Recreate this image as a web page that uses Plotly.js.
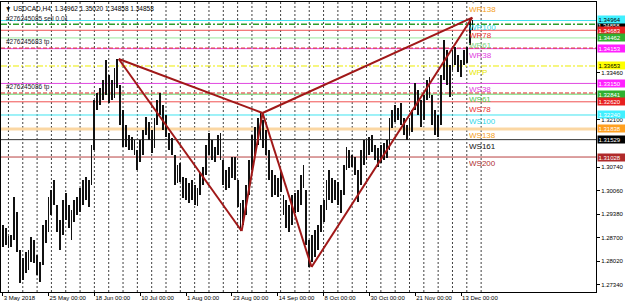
<!DOCTYPE html>
<html><head><meta charset="utf-8">
<script src="https://cdn.plot.ly/plotly-3.0.1.min.js"></script>
<style>html,body{margin:0;padding:0;background:#fff;}#chart{width:625px;height:304px;}</style>
</head><body><div id="chart"></div>
<script>
// ---- data ----
const highs = [1.29067,1.28981,1.2875,1.28779,1.29875,1.29442,1.28346,1.28116,1.28289,1.28346,
1.28721,1.28635,1.28202,1.28,1.29067,1.29211,1.29875,1.30077,1.30365,1.29644,
1.29211,1.29788,1.2999,1.29644,1.295,1.29788,1.29875,1.30134,1.30365,1.30452,
1.30365,1.31374,1.32672,1.32874,1.33018,1.33249,1.33826,1.33393,1.33249,1.33595,
1.33855,1.33105,1.32384,1.31951,1.31663,1.31605,1.31519,1.3123,1.31519,1.31807,
1.32182,1.32038,1.31807,1.32153,1.32672,1.32874,1.32528,1.3224,1.31721,1.31576,
1.31086,1.30798,1.30855,1.30452,1.30423,1.30279,1.30365,1.30221,1.30134,1.30596,
1.3074,1.31374,1.31721,1.31519,1.31317,1.31663,1.31721,1.30942,1.30653,1.3074,
1.31028,1.31028,1.30365,1.29702,1.29788,1.30221,1.30942,1.31663,1.31894,1.32153,
1.32326,1.32095,1.31807,1.3123,1.30653,1.30509,1.30423,1.30596,1.29932,1.29788,
1.29644,1.29932,1.2999,1.30077,1.30509,1.30798,1.30077,1.28635,1.28779,1.28923,
1.29067,1.29644,1.29788,1.30365,1.30653,1.30423,1.30365,1.30307,1.30077,1.30798,
1.31317,1.3123,1.31086,1.31028,1.30653,1.3123,1.31519,1.31519,1.31605,1.31663,
1.31374,1.31288,1.31374,1.31432,1.31519,1.32153,1.32384,1.32528,1.32442,1.32586,
1.32153,1.31951,1.32153,1.32384,1.33163,1.32961,1.32672,1.32816,1.33249,1.33336,
1.32816,1.32384,1.3224,1.33393,1.34403,1.34114,1.33682,1.34114,1.34201,1.3397,
1.33826,1.34114,1.34201,1.3502,1.34979];
const lows = [1.28433,1.2849,1.28404,1.28433,1.28635,1.28289,1.27395,1.27481,1.27683,1.2777,
1.28,1.27971,1.27625,1.27424,1.27914,1.28548,1.28865,1.29356,1.29644,1.28865,
1.28346,1.28779,1.29211,1.28981,1.28635,1.29154,1.29356,1.29442,1.29644,1.29788,
1.29586,1.30221,1.3123,1.32384,1.32528,1.32672,1.32816,1.32586,1.32672,1.3273,
1.33018,1.31951,1.31317,1.31317,1.3123,1.3123,1.31086,1.30653,1.30884,1.31086,
1.31663,1.31519,1.31144,1.31288,1.31951,1.3224,1.31807,1.31605,1.3123,1.31086,
1.30221,1.30279,1.30307,1.29846,1.29788,1.29702,1.29788,1.29644,1.29615,1.29932,
1.30221,1.30509,1.31086,1.30942,1.30884,1.31086,1.30942,1.30221,1.30077,1.30134,
1.30423,1.30365,1.29586,1.28894,1.29067,1.29356,1.29932,1.30653,1.31086,1.31374,
1.31519,1.31288,1.31086,1.30365,1.29875,1.29932,1.29875,1.30019,1.29356,1.28981,
1.28865,1.29067,1.29413,1.29442,1.29644,1.30134,1.2849,1.27856,1.28,1.28144,
1.28346,1.28865,1.29154,1.295,1.29788,1.29702,1.29788,1.29644,1.29413,1.29932,
1.30653,1.30711,1.3074,1.30509,1.29731,1.30221,1.30798,1.30942,1.31086,1.31173,
1.30942,1.3074,1.30855,1.30942,1.31,1.3123,1.31865,1.32038,1.32095,1.31951,
1.31663,1.31519,1.31663,1.31749,1.32384,1.3224,1.31894,1.32095,1.32672,1.3273,
1.31951,1.31663,1.31605,1.31951,1.33249,1.33105,1.32759,1.33537,1.33682,1.3348,
1.33336,1.33682,1.33739,1.34258,1.34691];
const tickIdx = [0,16,32,48,64,80,96,112,128,144,160];
const tickLabels = ['3 May 2018','25 May 00:00','18 Jun 00:00','10 Jul 00:00','1 Aug 00:00','23 Aug 00:00','14 Sep 00:00','8 Oct 00:00','30 Oct 00:00','21 Nov 00:00','13 Dec 00:00'];
// visible price scale labels (others are hidden behind the level tags)
const priceTicks = [1.2734,1.2802,1.2870,1.2938,1.3006,1.3074,1.3210,1.3346];
const levelNames = ['WR138','WR100','WR78','WR61','WR38','WPP','WS38','WS61','WS78','WS100','WS138','WS161','WS200'];
const levelPrices = [1.35468,1.34964,1.34683,1.34462,1.34153,1.33653,1.33150,1.32841,1.32620,1.32240,1.31838,1.31529,1.31028];
const orderNames = ['#276245085 sell 0.01','#276245683 tp','#276245086 tp'];
const orderPrices = [1.34860,1.34170,1.32875];
const currentPrice = 1.34858;
const headerText = '▼ USDCAD,H4  1.34962 1.35020 1.34858 1.34858';
const patternIdx = [40.5,83.4,90.7,107.8,163.9];
const patternPrice = [1.33855,1.28894,1.32297,1.27856,1.3505];
const patternSegs = [[0,1],[0,2],[1,2],[2,3],[2,4],[3,4]];

// ---- styles ----
const FONT = 'Liberation Sans, Arial, sans-serif';
const lineColor = [null,'#3fe3f0','#f05050','#9be89b','#e048e0','#eded00','#e048e0','#5fd35f','#f05050','#3fe3f0','#fbd7a3','#333333','#b84040'];
const lineWidth = [1,1,1,1,1,1,1,1,1,1,3,1,1];
const lineDash  = ['solid','solid','solid','solid','solid','6px,2px,2px,2px','solid','solid','solid','solid','solid','solid','solid'];
const textColor = ['#f5a020','#30d8ea','#e83030','#7ed67e','#e040e0','#e8e800','#e040e0','#4cc84c','#e83030','#30d8ea','#f5a020','#111111','#b03030'];
const textShift = [-2,-2,-1,-3,-2,-2,-2,-0.5,-3.5,-2,-2,-2,-2];
const tagBg     = [null,'#40f0ff','#e82020','#30b030','#ff20ff','#ffff00','#ff20ff','#30b030','#e82020','#40f0ff','#ffa020','#000000','#b02a2a'];
const tagFont   = [null,'#000','#fff','#fff','#fff','#000','#fff','#fff','#fff','#fff','#fff','#fff','#fff'];
const tagShift  = [0,1,0,0,0,0,0,0,0,0,0,0,0];
const orderColor = ['#2e9e2e','#e03030','#e03030'];
const orderDash  = ['6px,2px,2px,2px','4px,2px','4px,2px'];

const idx = highs.map((_, i) => i);
const ranges = highs.map((h, i) => h - lows[i]);

const shapes = [];
for (let d = 2; d <= 167; d += 5) {
  shapes.push({type:'line', xref:'x', yref:'paper', x0:d, x1:d, y0:0, y1:1,
    line:{color:'#000', width:1, dash:'2px,2px'}, opacity:0.75, layer:'below'});
}
levelPrices.forEach((p, i) => {
  if (!lineColor[i]) return;
  shapes.push({type:'line', xref:'paper', yref:'y', x0:0, x1:1, y0:p, y1:p,
    line:{color:lineColor[i], width:lineWidth[i], dash:lineDash[i]}, layer:'below'});
});
orderPrices.forEach((p, i) => {
  shapes.push({type:'line', xref:'paper', yref:'y', x0:0, x1:1, y0:p, y1:p,
    line:{color:orderColor[i], width:i===0?1.5:1, dash:orderDash[i]}, layer:'below'});
});

const annotations = [];
annotations.push({xref:'paper', yref:'paper', x:0, y:1, xanchor:'left', yanchor:'top', xshift:2, yshift:-1,
  text:headerText, showarrow:false, font:{family:FONT, size:6.5, color:'#000'}});
orderNames.forEach((t, i) => {
  annotations.push({xref:'paper', yref:'y', x:0, y:orderPrices[i], xanchor:'left', yanchor:'bottom', xshift:3,
    text:t, showarrow:false, font:{family:FONT, size:6.5, color:'#1a1a2a'}});
});
levelNames.forEach((t, i) => {
  annotations.push({xref:'x', yref:'y', x:162.5, y:levelPrices[i], xanchor:'left', yanchor:'top', yshift:textShift[i],
    height:6, text:t, showarrow:false, borderpad:0, font:{family:FONT, size:8, color:textColor[i]}});
});
annotations.push({xref:'paper', yref:'y', x:1, y:currentPrice, xanchor:'left', yanchor:'middle', xshift:1, yshift:-1.5,
  text:currentPrice.toFixed(5), showarrow:false, bgcolor:'#000', borderpad:0, width:27, height:6, align:'left',
  font:{family:FONT, size:6, color:'#fff'}});
levelPrices.forEach((p, i) => {
  if (!tagBg[i]) return;
  annotations.push({xref:'paper', yref:'y', x:1, y:p, xanchor:'left', yanchor:'middle', xshift:1, yshift:tagShift[i],
    text:p.toFixed(5), showarrow:false, bgcolor:tagBg[i], borderpad:0.5, width:27, height:6, align:'left',
    font:{family:FONT, size:6, color:tagFont[i]}});
});
annotations.push({xref:'x', yref:'paper', x:164.3, y:1, xanchor:'center', yanchor:'top', yshift:2, height:3,
  text:'▼', showarrow:false, borderpad:0, font:{family:FONT, size:4.5, color:'#999'}});

const zx = [], zy = [];
patternSegs.forEach(s => {
  zx.push(patternIdx[s[0]], patternIdx[s[1]], null);
  zy.push(patternPrice[s[0]], patternPrice[s[1]], null);
});

const data = [
  {type:'bar', x:idx, base:lows, y:ranges, width:0.65, marker:{color:'#111', line:{width:0}}, hoverinfo:'skip'},
  {type:'scatter', mode:'lines', x:zx, y:zy, line:{color:'#a01818', width:2}, hoverinfo:'skip', connectgaps:false}
];

const layout = {
  width:625, height:304,
  margin:{l:1, r:29, t:2, b:12, pad:0},
  paper_bgcolor:'#fff', plot_bgcolor:'#fff',
  showlegend:false, bargap:0,
  font:{family:FONT, size:6, color:'#000'},
  xaxis:{range:[-0.6, 207.1], tickvals:tickIdx, ticktext:tickLabels, ticks:'outside', ticklen:3,
    tickcolor:'#000', ticklabelposition:'outside right', tickfont:{family:FONT, size:6, color:'#000'},
    showgrid:false, zeroline:false, showline:true, linecolor:'#000', linewidth:1, mirror:true, fixedrange:true},
  yaxis:{range:[1.27136, 1.35498], side:'right', tickvals:priceTicks, ticktext:priceTicks.map(v => v.toFixed(5)),
    ticks:'outside', ticklen:3, tickcolor:'#000', tickfont:{family:FONT, size:6, color:'#000'},
    showgrid:false, zeroline:false, showline:true, linecolor:'#000', linewidth:1, mirror:true, fixedrange:true},
  shapes:shapes, annotations:annotations
};
Plotly.newPlot('chart', data, layout, {staticPlot:true, displayModeBar:false});
</script></body></html>
